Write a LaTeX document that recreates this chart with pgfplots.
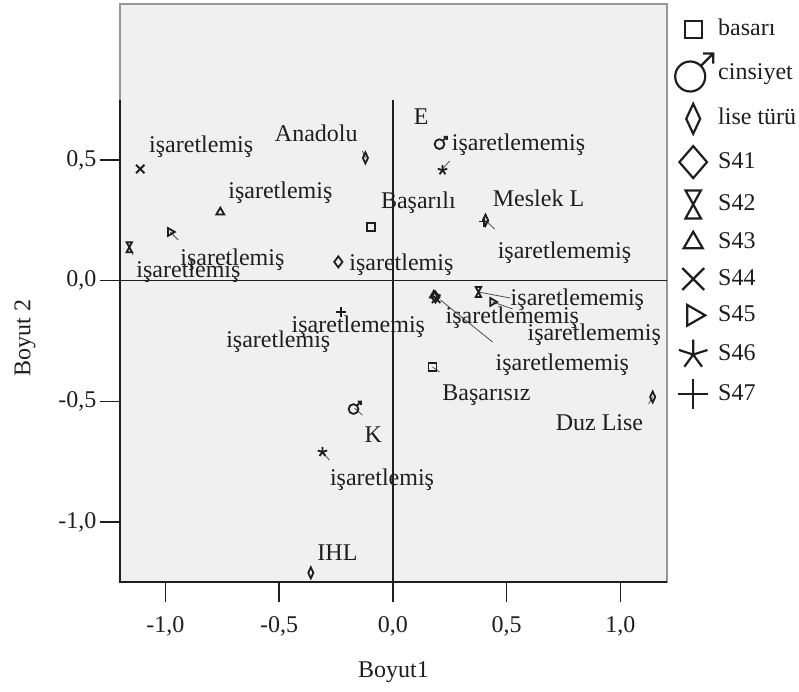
\documentclass[border=0pt]{standalone}
\usepackage{fontspec}
\setmainfont{Liberation Serif}
\usepackage{pgfplots}
\pgfplotsset{compat=1.18}
\definecolor{bg}{RGB}{240,240,240}
\definecolor{framec}{RGB}{150,150,150}
\definecolor{ink}{RGB}{30,30,30}
\definecolor{lead}{RGB}{80,80,80}
\pgfdeclareplotmark{male}{%
  \pgfpathcircle{\pgfpoint{-0.15\pgfplotmarksize}{-0.15\pgfplotmarksize}}{0.75\pgfplotmarksize}%
  \pgfusepathqstroke
  \pgfpathmoveto{\pgfpoint{0.38\pgfplotmarksize}{0.38\pgfplotmarksize}}%
  \pgfpathlineto{\pgfpoint{1.0\pgfplotmarksize}{1.0\pgfplotmarksize}}%
  \pgfpathmoveto{\pgfpoint{0.5\pgfplotmarksize}{1.0\pgfplotmarksize}}%
  \pgfpathlineto{\pgfpoint{1.0\pgfplotmarksize}{1.0\pgfplotmarksize}}%
  \pgfpathlineto{\pgfpoint{1.0\pgfplotmarksize}{0.5\pgfplotmarksize}}%
  \pgfusepathqstroke
}
\pgfdeclareplotmark{hourglass}{%
  \pgfpathmoveto{\pgfpoint{-0.55\pgfplotmarksize}{\pgfplotmarksize}}%
  \pgfpathlineto{\pgfpoint{0.55\pgfplotmarksize}{\pgfplotmarksize}}%
  \pgfpathlineto{\pgfpoint{-0.55\pgfplotmarksize}{-\pgfplotmarksize}}%
  \pgfpathlineto{\pgfpoint{0.55\pgfplotmarksize}{-\pgfplotmarksize}}%
  \pgfpathclose
  \pgfusepathqstroke
}
\begin{document}
\begin{tikzpicture}[font=\fontsize{24}{28}\selectfont, x=1pt, y=1pt]
\useasboundingbox (-120,-109) rectangle (679,582);
\begin{axis}[
  at={(0,0)}, anchor=south west,
  scale only axis, width=547pt, height=578pt,
  xmin=-1.2, xmax=1.205, ymin=-1.249, ymax=1.147,
  clip=false,
  axis background/.style={fill=bg},
  axis line style={framec, line width=1.2pt},
  xtick={-1,-0.5,0,0.5,1}, ytick={-1,-0.5,0,0.5},
  tick align=outside, major tick length=20pt,
  xtick pos=bottom, ytick pos=left,
  tick style={ink, line width=1.5pt},
  /pgf/number format/use comma,
  /pgf/number format/fixed,
  /pgf/number format/fixed zerofill,
  /pgf/number format/precision=1,
  /pgf/number format/assume math mode=true,
  ticklabel style={text=ink},
  xticklabel style={yshift=-11pt},
  xlabel={Boyut1}, ylabel={Boyut 2},
  xlabel style={at={(axis description cs:0.5,-0.1557)}, anchor=center, text=ink},
  ylabel style={at={(axis description cs:-0.1737,0.422)}, anchor=center, text=ink},
  legend image code/.code={\path[draw=none, fill=none] (-17pt,-12pt) rectangle (17pt,12pt);
     \draw[ink, #1, every mark/.append style={line width=2.2pt}] plot coordinates {(0pt,0pt)};},
  legend style={at={(axis description cs:1,1)}, anchor=north west,
     xshift=8pt, yshift=-13pt, draw=none, fill=none, inner sep=0pt,
     row sep=12.3pt, column sep=5pt,
     nodes={inner sep=0pt, text height=17pt, text depth=5pt, text=ink}},
  legend cell align=left,
]
% reference lines and dark axis lines
\addplot[ink, line width=1.5pt, forget plot] coordinates {(-1.2,0) (1.205,0)};
\addplot[ink, line width=1.5pt, forget plot] coordinates {(0,0.749) (0,-1.249)};
\addplot[ink, line width=1.6pt, forget plot] coordinates {(-1.2,0.749) (-1.2,-1.249) (1.205,-1.249)};
% leader lines
\addplot[lead, line width=0.8pt, forget plot] coordinates {(-1.159,0.140) (-1.142,0.106)};
\addplot[lead, line width=0.8pt, forget plot] coordinates {(-0.979,0.202) (-0.944,0.169)};
\addplot[lead, line width=0.8pt, forget plot] coordinates {(-0.121,0.509) (-0.134,0.538)};
\addplot[lead, line width=0.8pt, forget plot] coordinates {(0.218,0.463) (0.249,0.496)};
\addplot[lead, line width=0.8pt, forget plot] coordinates {(0.407,0.250) (0.447,0.214)};
\addplot[lead, line width=0.8pt, forget plot] coordinates {(0.376,-0.047) (0.517,-0.072)};
\addplot[lead, line width=0.8pt, forget plot] coordinates {(0.438,-0.088) (0.526,-0.117)};
\addplot[lead, line width=0.8pt, forget plot] coordinates {(0.209,-0.080) (0.438,-0.254)};
\addplot[lead, line width=0.8pt, forget plot] coordinates {(0.174,-0.358) (0.205,-0.378)};
\addplot[lead, line width=0.8pt, forget plot] coordinates {(1.142,-0.481) (1.124,-0.511)};
\addplot[lead, line width=0.8pt, forget plot] coordinates {(-0.169,-0.528) (-0.134,-0.557)};
\addplot[lead, line width=0.8pt, forget plot] coordinates {(-0.310,-0.710) (-0.279,-0.744)};
% markers
\addplot[only marks, ink, line width=1.8pt, mark=square, mark size=4pt, forget plot] coordinates {(-0.095,0.222) (0.174,-0.357)};
\addplot[only marks, ink, line width=1.8pt, mark=male, mark size=6.5pt, forget plot] coordinates {(0.209,0.570) (-0.169,-0.528)};
\addplot[only marks, ink, line width=1.8pt, mark=diamond, mark size=5.5pt, mark options={xscale=0.62}, forget plot] coordinates {(-0.121,0.509) (0.407,0.251) (1.142,-0.482) (-0.361,-1.211)};
\addplot[only marks, ink, line width=1.8pt, mark=diamond, mark size=5.5pt, forget plot] coordinates {(-0.240,0.078) (0.187,-0.068)};
\addplot[only marks, ink, line width=1.8pt, mark=hourglass, mark size=5pt, forget plot] coordinates {(-1.159,0.139) (0.376,-0.047)};
\addplot[only marks, ink, line width=1.8pt, mark=triangle, mark size=4.5pt, forget plot] coordinates {(-0.759,0.284) (0.180,-0.060)};
\addplot[only marks, ink, line width=1.8pt, mark=x, mark size=6pt, forget plot] coordinates {(-1.111,0.463) (0.190,-0.075)};
\addplot[only marks, ink, line width=1.8pt, mark=triangle, mark size=4.5pt, mark options={rotate=-90}, forget plot] coordinates {(-0.979,0.202) (0.438,-0.088)};
\addplot[only marks, ink, line width=1.8pt, mark=star, mark size=5pt, forget plot] coordinates {(-0.310,-0.710) (0.218,0.458)};
\addplot[only marks, ink, line width=1.8pt, mark=+, mark size=5pt, forget plot] coordinates {(-0.228,-0.129) (0.400,0.245)};
% labels
\begin{scope}[every node/.style={text=ink, inner sep=0pt, anchor=center}]
\node at (axis cs:-0.843,0.554) {işaretlemiş};
\node at (axis cs:-0.337,0.612) {Anadolu};
\node at (axis cs:0.124,0.680) {E};
\node at (axis cs:0.552,0.563) {işaretlememiş};
\node at (axis cs:-0.495,0.364) {işaretlemiş};
\node at (axis cs:0.112,0.322) {Başarılı};
\node at (axis cs:0.640,0.343) {Meslek L};
\node at (axis cs:0.754,0.115) {işaretlememiş};
\node at (axis cs:-0.706,0.086) {işaretlemiş};
\node at (axis cs:0.037,0.065) {işaretlemiş};
\node at (axis cs:-0.899,0.036) {işaretlemiş};
\node at (axis cs:0.811,-0.080) {işaretlememiş};
\node at (axis cs:-0.152,-0.192) {işaretlememiş};
\node at (axis cs:0.525,-0.155) {işaretlememiş};
\node at (axis cs:0.885,-0.225) {işaretlememiş};
\node at (axis cs:-0.504,-0.254) {işaretlemiş};
\node at (axis cs:0.745,-0.349) {işaretlememiş};
\node at (axis cs:0.411,-0.474) {Başarısız};
\node at (axis cs:0.908,-0.590) {Duz Lise};
\node at (axis cs:-0.086,-0.640) {K};
\node at (axis cs:-0.048,-0.826) {işaretlemiş};
\node at (axis cs:-0.244,-1.126) {IHL};
\end{scope}
% legend
\addlegendimage{mark=square, mark size=8.5pt}
\addlegendentry{basarı}
\addlegendimage{mark=male, mark size=20pt}
\addlegendentry{cinsiyet}
\addlegendimage{mark=diamond, mark size=15pt, mark options={xscale=0.62}}
\addlegendentry{lise türü}
\addlegendimage{mark=diamond, mark size=16pt, mark options={xscale=1.15}}
\addlegendentry{S41}
\addlegendimage{mark=hourglass, mark size=14pt}
\addlegendentry{S42}
\addlegendimage{mark=triangle, mark size=11pt}
\addlegendentry{S43}
\addlegendimage{mark=x, mark size=15.5pt}
\addlegendentry{S44}
\addlegendimage{mark=triangle, mark size=12pt, mark options={rotate=-90}}
\addlegendentry{S45}
\addlegendimage{mark=star, mark size=15pt}
\addlegendentry{S46}
\addlegendimage{mark=+, mark size=15pt}
\addlegendentry{S47}
\end{axis}
\end{tikzpicture}
\end{document}
